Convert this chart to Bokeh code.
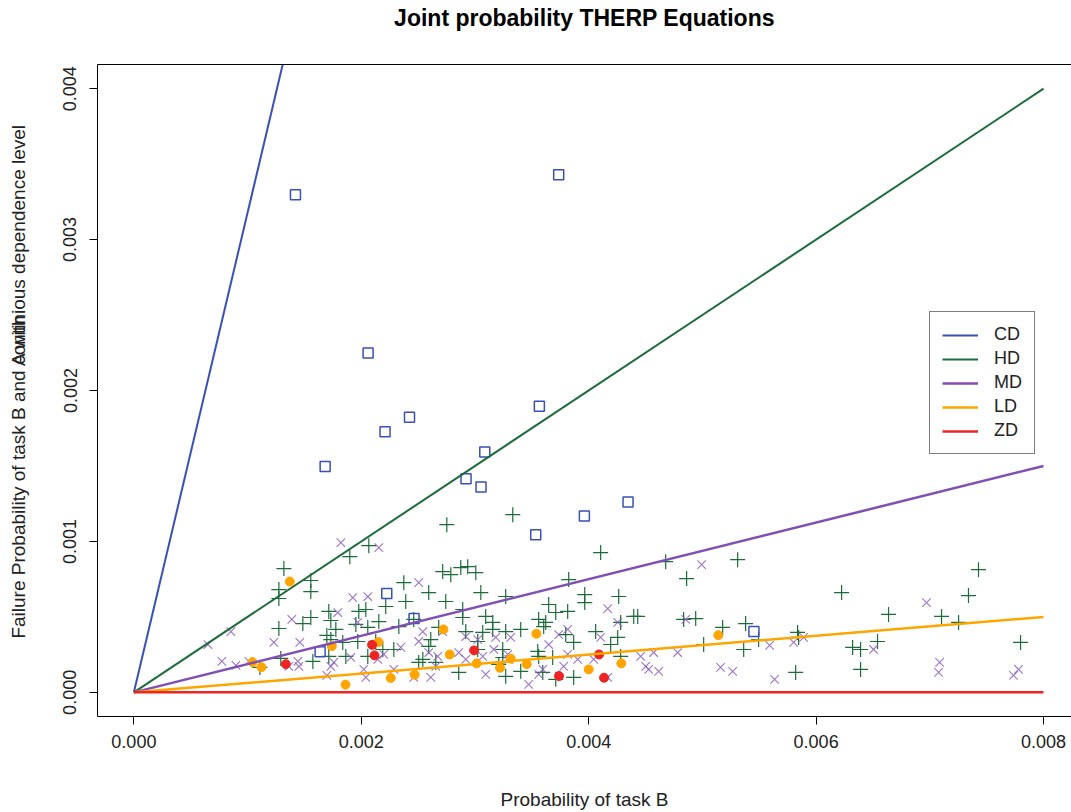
import math
from bokeh.plotting import figure
from bokeh.layouts import row
from bokeh.models import Range1d, FixedTicker, NumeralTickFormatter, LinearAxis
from bokeh.core.properties import value
from bokeh.embed import file_html
from bokeh.resources import INLINE

# ---------------- data ----------------
# dependence-level equation lines (x = P(B), y = joint failure probability)
line_x = [0.0, 0.008]
cd_line_x = [0.0, 0.0014]
cd_line_y = [0.0, 0.00445]
hd_line_y = [0.0, 0.0040]
md_line_y = [0.0, 0.0015]
ld_line_y = [0.0, 0.0005]
zd_line_y = [0.0, 0.0]

# CD points (blue squares)
cd_x = [0.001421, 0.003736, 0.002060, 0.002424, 0.002209, 0.001682, 0.003566, 0.003086,
        0.002921, 0.003053, 0.004346, 0.003962, 0.003534, 0.002224, 0.001638, 0.002464, 0.005453]
cd_y = [0.003297, 0.003429, 0.002248, 0.001823, 0.001726, 0.001496, 0.001896, 0.001593,
        0.001415, 0.001360, 0.001261, 0.001168, 0.001045, 0.000655, 0.000269, 0.000489, 0.000403]

# HD points (green plus)
hd_x = [0.001319, 0.001556, 0.001275, 0.001556, 0.001275, 0.001714, 0.001556, 0.001486, 0.001275, 0.001732,
        0.001776, 0.001697, 0.001292, 0.001574, 0.001108, 0.001714, 0.001978, 0.002040, 0.001952, 0.002154,
        0.002057, 0.001969, 0.001837, 0.001864, 0.002127, 0.002189, 0.002286, 0.002215, 0.002057, 0.001732,
        0.002716, 0.002787, 0.002875, 0.002936, 0.003007, 0.002374, 0.002593, 0.002391, 0.002743, 0.003051,
        0.003270, 0.002892, 0.003648, 0.002892, 0.003094, 0.003156, 0.003560, 0.003622, 0.003710, 0.002681,
        0.002919, 0.003068, 0.003156, 0.003270, 0.003402, 0.002611, 0.003024, 0.003024, 0.003244, 0.002593,
        0.003552, 0.003560, 0.003683, 0.003244, 0.003209, 0.002541, 0.002505, 0.002655, 0.002857, 0.003270,
        0.003402, 0.003596, 0.003710, 0.002461, 0.003332, 0.002752, 0.004105, 0.004677, 0.005310, 0.004861,
        0.003824, 0.002066, 0.001899, 0.003965, 0.003965, 0.004264, 0.003815, 0.004396, 0.004431, 0.004281,
        0.004835, 0.004941, 0.005178, 0.004061, 0.003798, 0.003868, 0.004255, 0.004193, 0.004281, 0.005011,
        0.003868, 0.005380, 0.005494, 0.005363, 0.005837, 0.005820, 0.007428, 0.007340, 0.006224, 0.006637,
        0.007103, 0.007253, 0.005846, 0.006321, 0.006391, 0.006540, 0.007798, 0.006391, 0.003604, 0.002330]
hd_y = [0.000820, 0.000741, 0.000681, 0.000668, 0.000622, 0.000536, 0.000496, 0.000456, 0.000423, 0.000476,
        0.000417, 0.000377, 0.000225, 0.000205, 0.000165, 0.000238, 0.000536, 0.000549, 0.000450, 0.000469,
        0.000430, 0.000337, 0.000331, 0.000238, 0.000337, 0.000284, 0.000284, 0.000569, 0.000238, 0.000350,
        0.000800, 0.000780, 0.000827, 0.000833, 0.000793, 0.000727, 0.000661, 0.000602, 0.000602, 0.000661,
        0.000635, 0.000549, 0.000582, 0.000496, 0.000503, 0.000463, 0.000483, 0.000463, 0.000529, 0.000430,
        0.000403, 0.000397, 0.000417, 0.000403, 0.000417, 0.000350, 0.000337, 0.000284, 0.000284, 0.000304,
        0.000271, 0.000238, 0.000231, 0.000231, 0.000185, 0.000218, 0.000198, 0.000198, 0.000132, 0.000106,
        0.000139, 0.000132, 0.000086, 0.000483, 0.001177, 0.001111, 0.000926, 0.000866, 0.000879, 0.000754,
        0.000747, 0.000972, 0.000899, 0.000648, 0.000595, 0.000635, 0.000536, 0.000503, 0.000503, 0.000463,
        0.000483, 0.000489, 0.000430, 0.000403, 0.000383, 0.000331, 0.000364, 0.000317, 0.000238, 0.000317,
        0.000099, 0.000456, 0.000350, 0.000284, 0.000397, 0.000132, 0.000813, 0.000641, 0.000661, 0.000516,
        0.000503, 0.000463, 0.000364, 0.000298, 0.000284, 0.000337, 0.000331, 0.000152, 0.000436, 0.000436]

# MD points (purple x)
md_x = [0.001820, 0.001389, 0.000853, 0.000651, 0.001231, 0.001459, 0.000774, 0.000897, 0.001011, 0.001442,
        0.001451, 0.001758, 0.001697, 0.001925, 0.002057, 0.001793, 0.001969, 0.001363, 0.001732, 0.001908,
        0.002022, 0.002040, 0.002145, 0.002198, 0.002286, 0.002505, 0.002541, 0.002716, 0.002919, 0.003024,
        0.003182, 0.003314, 0.002347, 0.002505, 0.002593, 0.002672, 0.002857, 0.002919, 0.003068, 0.003165,
        0.003288, 0.003297, 0.002655, 0.002611, 0.002461, 0.003094, 0.003472, 0.003560, 0.003596, 0.003648,
        0.003736, 0.002154, 0.004993, 0.004167, 0.004255, 0.003815, 0.004105, 0.004853, 0.003815, 0.003903,
        0.004044, 0.003780, 0.004457, 0.004571, 0.004501, 0.004527, 0.004615, 0.004782, 0.005160, 0.004167,
        0.005591, 0.005802, 0.005266, 0.005635, 0.006971, 0.005890, 0.006505, 0.007086, 0.007077, 0.007780,
        0.007736]
md_y = [0.000992, 0.000483, 0.000403, 0.000317, 0.000331, 0.000331, 0.000205, 0.000179, 0.000205, 0.000205,
        0.000172, 0.000198, 0.000112, 0.000628, 0.000635, 0.000529, 0.000463, 0.000172, 0.000172, 0.000231,
        0.000152, 0.000099, 0.000218, 0.000251, 0.000152, 0.000727, 0.000403, 0.000403, 0.000370, 0.000350,
        0.000364, 0.000364, 0.000298, 0.000337, 0.000264, 0.000238, 0.000264, 0.000218, 0.000238, 0.000284,
        0.000251, 0.000218, 0.000172, 0.000099, 0.000099, 0.000119, 0.000053, 0.000119, 0.000152, 0.000317,
        0.000383, 0.000959, 0.000846, 0.000555, 0.000463, 0.000417, 0.000364, 0.000483, 0.000251, 0.000218,
        0.000218, 0.000172, 0.000238, 0.000264, 0.000172, 0.000152, 0.000139, 0.000264, 0.000165, 0.000099,
        0.000311, 0.000331, 0.000139, 0.000086, 0.000595, 0.000364, 0.000284, 0.000198, 0.000132, 0.000152,
        0.000112]

# LD points (orange dots)
ld_x = [0.001371, 0.001043, 0.001122, 0.001741, 0.002151, 0.002722, 0.002778, 0.001861, 0.002259,
        0.002470, 0.003015, 0.003220, 0.003314, 0.003455, 0.003540, 0.004000, 0.004287, 0.005140]
ld_y = [0.000734, 0.000200, 0.000167, 0.000306, 0.000333, 0.000417, 0.000251, 0.000051, 0.000095,
        0.000117, 0.000192, 0.000163, 0.000223, 0.000187, 0.000388, 0.000152, 0.000192, 0.000379]

# ZD points (red dots)
zd_x = [0.001336, 0.002095, 0.002116, 0.002992, 0.003739, 0.004091, 0.004135]
zd_y = [0.000187, 0.000315, 0.000245, 0.000278, 0.000108, 0.000251, 0.000097]

x_ticks = [0.0, 0.002, 0.004, 0.006, 0.008]
y_ticks = [0.0, 0.001, 0.002, 0.003, 0.004]

title_text = "Joint probability THERP Equations"
x_label = "Probability of task B"
# y-axis title, written as two runs on one baseline
y_label_parts = ["Failure Probability of task B and A with", "continious dependence level"]

# ---------------- styles ----------------
C_CD = "#3A50B4"
C_HD = "#1C6B3A"
C_MD = "#7F4FB3"
C_LD = "#FFA500"
C_ZD = "#EE2424"
FONT = "Liberation Sans"
LAB_W = 40  # width of the strip that carries the y-axis title
H = 812

# strip on the left holding the rotated y-axis title; no axes/title so its
# frame spans the full strip, and it is measured in pixels from the top
lab = figure(width=LAB_W, height=H, output_backend="svg", toolbar_location=None,
             title=None, x_axis_type=None, y_axis_type=None,
             x_range=Range1d(0, LAB_W), y_range=Range1d(H, 0),
             min_border=0, min_border_left=0, min_border_right=0,
             min_border_top=0, min_border_bottom=0)
lab.grid.visible = False
lab.outline_line_color = None
lab.background_fill_color = "white"
lab.border_fill_color = "white"
lab.text(x=[18, 18], y=[512.4, 224.6], text=y_label_parts, angle=math.pi / 2,
         text_font=value(FONT), text_font_size="19px", text_color="#222222",
         text_align="center", text_baseline="middle")

p = figure(width=1071 - LAB_W, height=H, output_backend="svg", toolbar_location=None,
           x_range=Range1d(-0.00032, 0.008246), y_range=Range1d(-0.00016, 0.00416),
           min_border_left=97 - LAB_W, min_border_right=0, min_border_top=64, min_border_bottom=95,
           title=title_text)
p.background_fill_color = "white"
p.border_fill_color = "white"
p.outline_line_color = None
p.xgrid.visible = False
p.ygrid.visible = False

p.title.align = "center"
p.title.text_font = FONT
p.title.text_font_size = "23px"
p.title.text_font_style = "bold"
p.title.text_color = "black"
p.title.standoff = 0

for ax, ticks in ((p.xaxis[0], x_ticks), (p.yaxis[0], y_ticks)):
    ax.ticker = FixedTicker(ticks=ticks)
    ax.formatter = NumeralTickFormatter(format="0.000")
    ax.minor_tick_line_color = None
    ax.major_tick_in = 0
    ax.major_tick_out = 8
    ax.major_tick_line_color = "black"
    ax.axis_line_color = "black"
    ax.major_label_text_font = FONT
    ax.major_label_text_font_size = "18px"
    ax.major_label_text_color = "#222222"
    ax.axis_label_text_font = FONT
    ax.axis_label_text_font_size = "19px"
    ax.axis_label_text_font_style = "normal"
    ax.axis_label_text_color = "#222222"

p.xaxis.axis_label = x_label
p.xaxis.major_label_standoff = 10
p.xaxis.axis_label_standoff = 38
p.yaxis.major_label_orientation = "vertical"
p.yaxis.major_label_standoff = 13

# top edge of the box; an invisible tick gives it depth, leaving room below the title
top = LinearAxis(ticker=FixedTicker(ticks=[0.0]), major_tick_out=34, major_tick_in=0,
                 major_tick_line_color=None, minor_tick_line_color=None,
                 major_label_text_font_size="0px", major_label_text_color=None,
                 major_label_standoff=0, axis_line_color="black")
p.add_layout(top, "above")

# points
p.scatter(hd_x, hd_y, marker="cross", size=15, line_color=C_HD, line_width=1.2)
p.scatter(md_x, md_y, marker="x", size=12, line_color="#8A5CBC", line_width=1.1, line_alpha=0.85)
p.scatter(cd_x, cd_y, marker="square", size=10, fill_color=None, line_color=C_CD, line_width=1.5)
p.scatter(ld_x, ld_y, marker="circle", size=9, fill_color=C_LD, line_color=C_LD)
p.scatter(zd_x, zd_y, marker="circle", size=9, fill_color=C_ZD, line_color=C_ZD)

# equation lines
p.line(cd_line_x, cd_line_y, line_color=C_CD, line_width=2, legend_label="CD")
p.line(line_x, hd_line_y, line_color=C_HD, line_width=2, legend_label="HD")
p.line(line_x, md_line_y, line_color=C_MD, line_width=2.5, legend_label="MD")
p.line(line_x, ld_line_y, line_color=C_LD, line_width=2.5, legend_label="LD")
p.line(line_x, zd_line_y, line_color=C_ZD, line_width=2.5, legend_label="ZD")

lg = p.legend[0]
lg.location = (832, 262)
lg.border_line_color = "black"
lg.border_line_width = 1
lg.background_fill_color = "white"
lg.background_fill_alpha = 1
lg.label_text_font = FONT
lg.label_text_font_size = "18px"
lg.label_text_color = "#222222"
lg.glyph_width = 36
lg.glyph_height = 20
lg.label_height = 20
lg.label_standoff = 16
lg.padding = 12
lg.spacing = 3
lg.margin = 0

layout = row(lab, p, spacing=0)
open("out.html", "w").write(file_html(layout, INLINE))
